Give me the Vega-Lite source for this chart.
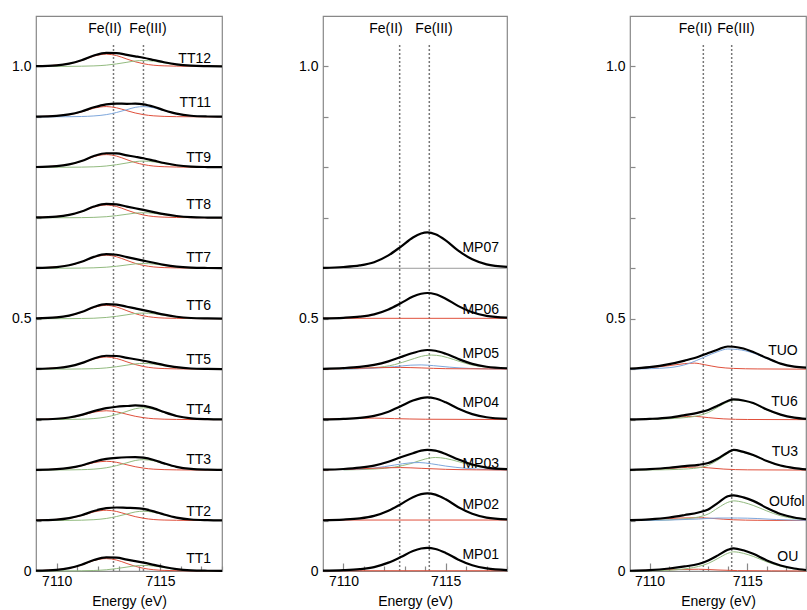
{
"$schema":"https://vega.github.io/schema/vega-lite/v6.json",
"padding":{"left":5,"top":15,"right":0,"bottom":0},
"background":"white",
"config":{"view":{"stroke":"#888","strokeWidth":1.2},
"axis":{"domain":false,"grid":false,"tickColor":"#888","tickWidth":1.2,"labelFont":"Liberation Sans","labelFontSize":14,"labelColor":"#000","titleFont":"Liberation Sans","titleFontSize":14,"titleFontWeight":"normal","titleColor":"#000","labelOverlap":false,"labelFlush":false},
"text":{"font":"Liberation Sans","fontSize":14,"color":"#000"}},
"spacing":63,
"datasets":{
"v":[{"x":7112.75,"y":0,"y2v":1.045},{"x":7114.2,"y":0,"y2v":1.045}],
"fe":[{"p":1,"t":"Fe(II)","x":7112.34,"y":1.075},{"p":1,"t":"Fe(III)","x":7114.42,"y":1.075},{"p":2,"t":"Fe(II)","x":7112.08,"y":1.075},{"p":2,"t":"Fe(III)","x":7114.43,"y":1.075},{"p":3,"t":"Fe(II)","x":7112.35,"y":1.075},{"p":3,"t":"Fe(III)","x":7114.42,"y":1.075}],
"n":[{"p":1,"s":"TT12","x":7117.47,"y":1.0139},{"p":1,"s":"TT11","x":7117.47,"y":0.9276},{"p":1,"s":"TT9","x":7117.47,"y":0.8194},{"p":1,"s":"TT8","x":7117.47,"y":0.7262},{"p":1,"s":"TT7","x":7117.47,"y":0.6198},{"p":1,"s":"TT6","x":7117.47,"y":0.5248},{"p":1,"s":"TT5","x":7117.47,"y":0.4187},{"p":1,"s":"TT4","x":7117.47,"y":0.3194},{"p":1,"s":"TT3","x":7117.47,"y":0.2202},{"p":1,"s":"TT2","x":7117.47,"y":0.1171},{"p":1,"s":"TT1","x":7117.47,"y":0.0238},
{"p":2,"s":"MP07","x":7117.61,"y":0.6402},{"p":2,"s":"MP06","x":7117.61,"y":0.5172},{"p":2,"s":"MP05","x":7117.61,"y":0.43},{"p":2,"s":"MP04","x":7117.61,"y":0.332},{"p":2,"s":"MP03","x":7117.61,"y":0.213},{"p":2,"s":"MP02","x":7117.61,"y":0.131},{"p":2,"s":"MP01","x":7117.61,"y":0.0317},
{"p":3,"s":"TUO","x":7116.82,"y":0.4365},{"p":3,"s":"TU6","x":7116.9,"y":0.334},{"p":3,"s":"TU3","x":7116.92,"y":0.236},{"p":3,"s":"OUfol","x":7117.02,"y":0.137},{"p":3,"s":"OU","x":7117.07,"y":0.028}],
"d":[
{"s":"TT1","c":"t","x":7109,"y":0.0007},{"s":"TT1","c":"t","x":7110,"y":0.0023},{"s":"TT1","c":"t","x":7110.6,"y":0.0056},{"s":"TT1","c":"t","x":7111.2,"y":0.0123},{"s":"TT1","c":"t","x":7111.8,"y":0.0217},{"s":"TT1","c":"t","x":7112.4,"y":0.027},{"s":"TT1","c":"t","x":7112.9,"y":0.0264},{"s":"TT1","c":"t","x":7113.4,"y":0.0225},{"s":"TT1","c":"t","x":7113.8,"y":0.0196},{"s":"TT1","c":"t","x":7114.2,"y":0.0165},{"s":"TT1","c":"t","x":7114.7,"y":0.0122},{"s":"TT1","c":"t","x":7115.2,"y":0.0079},{"s":"TT1","c":"t","x":7115.8,"y":0.0038},{"s":"TT1","c":"t","x":7116.5,"y":0.0014},{"s":"TT1","c":"t","x":7117.3,"y":0.0005},{"s":"TT1","c":"t","x":7118,"y":0.0002},
{"s":"TT1","c":"r","x":7109,"y":0.0006},{"s":"TT1","c":"r","x":7110.6,"y":0.0054},{"s":"TT1","c":"r","x":7111.2,"y":0.0118},{"s":"TT1","c":"r","x":7111.8,"y":0.0207},{"s":"TT1","c":"r","x":7112.4,"y":0.0246},{"s":"TT1","c":"r","x":7112.9,"y":0.0217},{"s":"TT1","c":"r","x":7113.4,"y":0.0148},{"s":"TT1","c":"r","x":7113.8,"y":0.0094},{"s":"TT1","c":"r","x":7114.2,"y":0.0054},{"s":"TT1","c":"r","x":7114.7,"y":0.0025},{"s":"TT1","c":"r","x":7115.2,"y":0.0012},{"s":"TT1","c":"r","x":7115.8,"y":0.0006},{"s":"TT1","c":"r","x":7116.5,"y":0.0003},{"s":"TT1","c":"r","x":7118,"y":0.0001},
{"s":"TT1","c":"g","x":7109,"y":0},{"s":"TT1","c":"g","x":7110.6,"y":0.0002},{"s":"TT1","c":"g","x":7111.2,"y":0.0004},{"s":"TT1","c":"g","x":7111.8,"y":0.001},{"s":"TT1","c":"g","x":7112.4,"y":0.0024},{"s":"TT1","c":"g","x":7112.9,"y":0.0048},{"s":"TT1","c":"g","x":7113.4,"y":0.0078},{"s":"TT1","c":"g","x":7113.8,"y":0.0102},{"s":"TT1","c":"g","x":7114.2,"y":0.0111},{"s":"TT1","c":"g","x":7114.7,"y":0.0098},{"s":"TT1","c":"g","x":7115.2,"y":0.0067},{"s":"TT1","c":"g","x":7115.8,"y":0.0032},{"s":"TT1","c":"g","x":7116.5,"y":0.0011},{"s":"TT1","c":"g","x":7118,"y":0.0002},
{"s":"TT2","c":"t","x":7109,"y":0.1006},{"s":"TT2","c":"t","x":7110,"y":0.102},{"s":"TT2","c":"t","x":7110.6,"y":0.1049},{"s":"TT2","c":"t","x":7111.2,"y":0.1105},{"s":"TT2","c":"t","x":7111.8,"y":0.1188},{"s":"TT2","c":"t","x":7112.4,"y":0.1245},{"s":"TT2","c":"t","x":7112.9,"y":0.1259},{"s":"TT2","c":"t","x":7113.4,"y":0.1252},{"s":"TT2","c":"t","x":7113.8,"y":0.1248},{"s":"TT2","c":"t","x":7114.2,"y":0.123},{"s":"TT2","c":"t","x":7114.7,"y":0.1183},{"s":"TT2","c":"t","x":7115.2,"y":0.1121},{"s":"TT2","c":"t","x":7115.8,"y":0.1059},{"s":"TT2","c":"t","x":7116.5,"y":0.1021},{"s":"TT2","c":"t","x":7117.3,"y":0.1008},{"s":"TT2","c":"t","x":7118,"y":0.1003},
{"s":"TT2","c":"r","x":7109,"y":0.1005},{"s":"TT2","c":"r","x":7110.6,"y":0.1045},{"s":"TT2","c":"r","x":7111.2,"y":0.1098},{"s":"TT2","c":"r","x":7111.8,"y":0.1171},{"s":"TT2","c":"r","x":7112.4,"y":0.1204},{"s":"TT2","c":"r","x":7112.9,"y":0.118},{"s":"TT2","c":"r","x":7113.4,"y":0.1122},{"s":"TT2","c":"r","x":7113.8,"y":0.1078},{"s":"TT2","c":"r","x":7114.2,"y":0.1045},{"s":"TT2","c":"r","x":7114.7,"y":0.102},{"s":"TT2","c":"r","x":7115.2,"y":0.101},{"s":"TT2","c":"r","x":7115.8,"y":0.1005},{"s":"TT2","c":"r","x":7116.5,"y":0.1002},{"s":"TT2","c":"r","x":7118,"y":0.1001},
{"s":"TT2","c":"g","x":7109,"y":0.1001},{"s":"TT2","c":"g","x":7110.6,"y":0.1004},{"s":"TT2","c":"g","x":7111.2,"y":0.1007},{"s":"TT2","c":"g","x":7111.8,"y":0.1017},{"s":"TT2","c":"g","x":7112.4,"y":0.1041},{"s":"TT2","c":"g","x":7112.9,"y":0.108},{"s":"TT2","c":"g","x":7113.4,"y":0.113},{"s":"TT2","c":"g","x":7113.8,"y":0.117},{"s":"TT2","c":"g","x":7114.2,"y":0.1185},{"s":"TT2","c":"g","x":7114.7,"y":0.1163},{"s":"TT2","c":"g","x":7115.2,"y":0.1111},{"s":"TT2","c":"g","x":7115.8,"y":0.1054},{"s":"TT2","c":"g","x":7116.5,"y":0.1019},{"s":"TT2","c":"g","x":7118,"y":0.1003},
{"s":"TT3","c":"t","x":7109,"y":0.2005},{"s":"TT3","c":"t","x":7110,"y":0.2018},{"s":"TT3","c":"t","x":7110.6,"y":0.2043},{"s":"TT3","c":"t","x":7111.2,"y":0.2092},{"s":"TT3","c":"t","x":7111.8,"y":0.2166},{"s":"TT3","c":"t","x":7112.4,"y":0.2221},{"s":"TT3","c":"t","x":7112.9,"y":0.2243},{"s":"TT3","c":"t","x":7113.4,"y":0.2254},{"s":"TT3","c":"t","x":7113.8,"y":0.2257},{"s":"TT3","c":"t","x":7114.2,"y":0.2246},{"s":"TT3","c":"t","x":7114.7,"y":0.22},{"s":"TT3","c":"t","x":7115.2,"y":0.2133},{"s":"TT3","c":"t","x":7115.8,"y":0.2064},{"s":"TT3","c":"t","x":7116.5,"y":0.2023},{"s":"TT3","c":"t","x":7117.3,"y":0.2008},{"s":"TT3","c":"t","x":7118,"y":0.2004},
{"s":"TT3","c":"r","x":7109,"y":0.2004},{"s":"TT3","c":"r","x":7110.6,"y":0.2039},{"s":"TT3","c":"r","x":7111.2,"y":0.2084},{"s":"TT3","c":"r","x":7111.8,"y":0.2147},{"s":"TT3","c":"r","x":7112.4,"y":0.2175},{"s":"TT3","c":"r","x":7112.9,"y":0.2154},{"s":"TT3","c":"r","x":7113.4,"y":0.2105},{"s":"TT3","c":"r","x":7113.8,"y":0.2067},{"s":"TT3","c":"r","x":7114.2,"y":0.2039},{"s":"TT3","c":"r","x":7114.7,"y":0.2018},{"s":"TT3","c":"r","x":7115.2,"y":0.2009},{"s":"TT3","c":"r","x":7115.8,"y":0.2004},{"s":"TT3","c":"r","x":7116.5,"y":0.2002},{"s":"TT3","c":"r","x":7118,"y":0.2001},
{"s":"TT3","c":"g","x":7109,"y":0.2001},{"s":"TT3","c":"g","x":7110.6,"y":0.2004},{"s":"TT3","c":"g","x":7111.2,"y":0.2008},{"s":"TT3","c":"g","x":7111.8,"y":0.2019},{"s":"TT3","c":"g","x":7112.4,"y":0.2046},{"s":"TT3","c":"g","x":7112.9,"y":0.2089},{"s":"TT3","c":"g","x":7113.4,"y":0.2145},{"s":"TT3","c":"g","x":7113.8,"y":0.219},{"s":"TT3","c":"g","x":7114.2,"y":0.2207},{"s":"TT3","c":"g","x":7114.7,"y":0.2182},{"s":"TT3","c":"g","x":7115.2,"y":0.2124},{"s":"TT3","c":"g","x":7115.8,"y":0.206},{"s":"TT3","c":"g","x":7116.5,"y":0.2021},{"s":"TT3","c":"g","x":7118,"y":0.2003},
{"s":"TT4","c":"t","x":7109,"y":0.3005},{"s":"TT4","c":"t","x":7110,"y":0.3018},{"s":"TT4","c":"t","x":7110.6,"y":0.3043},{"s":"TT4","c":"t","x":7111.2,"y":0.3094},{"s":"TT4","c":"t","x":7111.8,"y":0.3169},{"s":"TT4","c":"t","x":7112.4,"y":0.3228},{"s":"TT4","c":"t","x":7112.9,"y":0.3256},{"s":"TT4","c":"t","x":7113.4,"y":0.327},{"s":"TT4","c":"t","x":7113.8,"y":0.3281},{"s":"TT4","c":"t","x":7114.2,"y":0.3274},{"s":"TT4","c":"t","x":7114.7,"y":0.3224},{"s":"TT4","c":"t","x":7115.2,"y":0.315},{"s":"TT4","c":"t","x":7115.8,"y":0.3073},{"s":"TT4","c":"t","x":7116.5,"y":0.3026},{"s":"TT4","c":"t","x":7117.3,"y":0.3009},{"s":"TT4","c":"t","x":7118,"y":0.3004},
{"s":"TT4","c":"r","x":7109,"y":0.3004},{"s":"TT4","c":"r","x":7110.6,"y":0.3039},{"s":"TT4","c":"r","x":7111.2,"y":0.3085},{"s":"TT4","c":"r","x":7111.8,"y":0.3148},{"s":"TT4","c":"r","x":7112.4,"y":0.3176},{"s":"TT4","c":"r","x":7112.9,"y":0.3155},{"s":"TT4","c":"r","x":7113.4,"y":0.3106},{"s":"TT4","c":"r","x":7113.8,"y":0.3067},{"s":"TT4","c":"r","x":7114.2,"y":0.3039},{"s":"TT4","c":"r","x":7114.7,"y":0.3018},{"s":"TT4","c":"r","x":7115.2,"y":0.3009},{"s":"TT4","c":"r","x":7115.8,"y":0.3004},{"s":"TT4","c":"r","x":7116.5,"y":0.3002},{"s":"TT4","c":"r","x":7118,"y":0.3001},
{"s":"TT4","c":"g","x":7109,"y":0.3001},{"s":"TT4","c":"g","x":7110.6,"y":0.3005},{"s":"TT4","c":"g","x":7111.2,"y":0.3009},{"s":"TT4","c":"g","x":7111.8,"y":0.3021},{"s":"TT4","c":"g","x":7112.4,"y":0.3052},{"s":"TT4","c":"g","x":7112.9,"y":0.3101},{"s":"TT4","c":"g","x":7113.4,"y":0.3165},{"s":"TT4","c":"g","x":7113.8,"y":0.3216},{"s":"TT4","c":"g","x":7114.2,"y":0.3235},{"s":"TT4","c":"g","x":7114.7,"y":0.3207},{"s":"TT4","c":"g","x":7115.2,"y":0.3141},{"s":"TT4","c":"g","x":7115.8,"y":0.3068},{"s":"TT4","c":"g","x":7116.5,"y":0.3024},{"s":"TT4","c":"g","x":7118,"y":0.3004},
{"s":"TT5","c":"t","x":7109,"y":0.4007},{"s":"TT5","c":"t","x":7110,"y":0.4023},{"s":"TT5","c":"t","x":7110.6,"y":0.4055},{"s":"TT5","c":"t","x":7111.2,"y":0.412},{"s":"TT5","c":"t","x":7111.8,"y":0.4213},{"s":"TT5","c":"t","x":7112.4,"y":0.4266},{"s":"TT5","c":"t","x":7112.9,"y":0.4261},{"s":"TT5","c":"t","x":7113.4,"y":0.4224},{"s":"TT5","c":"t","x":7113.8,"y":0.4197},{"s":"TT5","c":"t","x":7114.2,"y":0.4167},{"s":"TT5","c":"t","x":7114.7,"y":0.4124},{"s":"TT5","c":"t","x":7115.2,"y":0.4081},{"s":"TT5","c":"t","x":7115.8,"y":0.4039},{"s":"TT5","c":"t","x":7116.5,"y":0.4014},{"s":"TT5","c":"t","x":7117.3,"y":0.4005},{"s":"TT5","c":"t","x":7118,"y":0.4002},
{"s":"TT5","c":"r","x":7109,"y":0.4006},{"s":"TT5","c":"r","x":7110.6,"y":0.4053},{"s":"TT5","c":"r","x":7111.2,"y":0.4116},{"s":"TT5","c":"r","x":7111.8,"y":0.4202},{"s":"TT5","c":"r","x":7112.4,"y":0.4241},{"s":"TT5","c":"r","x":7112.9,"y":0.4212},{"s":"TT5","c":"r","x":7113.4,"y":0.4145},{"s":"TT5","c":"r","x":7113.8,"y":0.4092},{"s":"TT5","c":"r","x":7114.2,"y":0.4053},{"s":"TT5","c":"r","x":7114.7,"y":0.4024},{"s":"TT5","c":"r","x":7115.2,"y":0.4012},{"s":"TT5","c":"r","x":7115.8,"y":0.4006},{"s":"TT5","c":"r","x":7116.5,"y":0.4003},{"s":"TT5","c":"r","x":7118,"y":0.4001},
{"s":"TT5","c":"g","x":7109,"y":0.4},{"s":"TT5","c":"g","x":7110.6,"y":0.4002},{"s":"TT5","c":"g","x":7111.2,"y":0.4005},{"s":"TT5","c":"g","x":7111.8,"y":0.401},{"s":"TT5","c":"g","x":7112.4,"y":0.4025},{"s":"TT5","c":"g","x":7112.9,"y":0.4049},{"s":"TT5","c":"g","x":7113.4,"y":0.408},{"s":"TT5","c":"g","x":7113.8,"y":0.4105},{"s":"TT5","c":"g","x":7114.2,"y":0.4114},{"s":"TT5","c":"g","x":7114.7,"y":0.41},{"s":"TT5","c":"g","x":7115.2,"y":0.4068},{"s":"TT5","c":"g","x":7115.8,"y":0.4033},{"s":"TT5","c":"g","x":7116.5,"y":0.4011},{"s":"TT5","c":"g","x":7118,"y":0.4002},
{"s":"TT6","c":"t","x":7109,"y":0.5007},{"s":"TT6","c":"t","x":7110,"y":0.5025},{"s":"TT6","c":"t","x":7110.6,"y":0.5061},{"s":"TT6","c":"t","x":7111.2,"y":0.5132},{"s":"TT6","c":"t","x":7111.8,"y":0.5233},{"s":"TT6","c":"t","x":7112.4,"y":0.529},{"s":"TT6","c":"t","x":7112.9,"y":0.5281},{"s":"TT6","c":"t","x":7113.4,"y":0.5237},{"s":"TT6","c":"t","x":7113.8,"y":0.5204},{"s":"TT6","c":"t","x":7114.2,"y":0.517},{"s":"TT6","c":"t","x":7114.7,"y":0.5125},{"s":"TT6","c":"t","x":7115.2,"y":0.5081},{"s":"TT6","c":"t","x":7115.8,"y":0.5039},{"s":"TT6","c":"t","x":7116.5,"y":0.5014},{"s":"TT6","c":"t","x":7117.3,"y":0.5006},{"s":"TT6","c":"t","x":7118,"y":0.5003},
{"s":"TT6","c":"r","x":7109,"y":0.5007},{"s":"TT6","c":"r","x":7110.6,"y":0.5058},{"s":"TT6","c":"r","x":7111.2,"y":0.5127},{"s":"TT6","c":"r","x":7111.8,"y":0.5223},{"s":"TT6","c":"r","x":7112.4,"y":0.5265},{"s":"TT6","c":"r","x":7112.9,"y":0.5233},{"s":"TT6","c":"r","x":7113.4,"y":0.5159},{"s":"TT6","c":"r","x":7113.8,"y":0.5101},{"s":"TT6","c":"r","x":7114.2,"y":0.5058},{"s":"TT6","c":"r","x":7114.7,"y":0.5027},{"s":"TT6","c":"r","x":7115.2,"y":0.5013},{"s":"TT6","c":"r","x":7115.8,"y":0.5007},{"s":"TT6","c":"r","x":7116.5,"y":0.5003},{"s":"TT6","c":"r","x":7118,"y":0.5001},
{"s":"TT6","c":"g","x":7109,"y":0.5},{"s":"TT6","c":"g","x":7110.6,"y":0.5002},{"s":"TT6","c":"g","x":7111.2,"y":0.5005},{"s":"TT6","c":"g","x":7111.8,"y":0.501},{"s":"TT6","c":"g","x":7112.4,"y":0.5025},{"s":"TT6","c":"g","x":7112.9,"y":0.5048},{"s":"TT6","c":"g","x":7113.4,"y":0.5078},{"s":"TT6","c":"g","x":7113.8,"y":0.5103},{"s":"TT6","c":"g","x":7114.2,"y":0.5112},{"s":"TT6","c":"g","x":7114.7,"y":0.5099},{"s":"TT6","c":"g","x":7115.2,"y":0.5067},{"s":"TT6","c":"g","x":7115.8,"y":0.5033},{"s":"TT6","c":"g","x":7116.5,"y":0.5011},{"s":"TT6","c":"g","x":7118,"y":0.5002},
{"s":"TT7","c":"t","x":7109,"y":0.6007},{"s":"TT7","c":"t","x":7110,"y":0.6024},{"s":"TT7","c":"t","x":7110.6,"y":0.6059},{"s":"TT7","c":"t","x":7111.2,"y":0.6128},{"s":"TT7","c":"t","x":7111.8,"y":0.6226},{"s":"TT7","c":"t","x":7112.4,"y":0.628},{"s":"TT7","c":"t","x":7112.9,"y":0.6268},{"s":"TT7","c":"t","x":7113.4,"y":0.6221},{"s":"TT7","c":"t","x":7113.8,"y":0.6185},{"s":"TT7","c":"t","x":7114.2,"y":0.6151},{"s":"TT7","c":"t","x":7114.7,"y":0.6109},{"s":"TT7","c":"t","x":7115.2,"y":0.6069},{"s":"TT7","c":"t","x":7115.8,"y":0.6034},{"s":"TT7","c":"t","x":7116.5,"y":0.6013},{"s":"TT7","c":"t","x":7117.3,"y":0.6005},{"s":"TT7","c":"t","x":7118,"y":0.6002},
{"s":"TT7","c":"r","x":7109,"y":0.6007},{"s":"TT7","c":"r","x":7110.6,"y":0.6057},{"s":"TT7","c":"r","x":7111.2,"y":0.6124},{"s":"TT7","c":"r","x":7111.8,"y":0.6218},{"s":"TT7","c":"r","x":7112.4,"y":0.6259},{"s":"TT7","c":"r","x":7112.9,"y":0.6228},{"s":"TT7","c":"r","x":7113.4,"y":0.6155},{"s":"TT7","c":"r","x":7113.8,"y":0.6098},{"s":"TT7","c":"r","x":7114.2,"y":0.6057},{"s":"TT7","c":"r","x":7114.7,"y":0.6026},{"s":"TT7","c":"r","x":7115.2,"y":0.6013},{"s":"TT7","c":"r","x":7115.8,"y":0.6007},{"s":"TT7","c":"r","x":7116.5,"y":0.6003},{"s":"TT7","c":"r","x":7118,"y":0.6001},
{"s":"TT7","c":"g","x":7109,"y":0.6},{"s":"TT7","c":"g","x":7110.6,"y":0.6002},{"s":"TT7","c":"g","x":7111.2,"y":0.6004},{"s":"TT7","c":"g","x":7111.8,"y":0.6009},{"s":"TT7","c":"g","x":7112.4,"y":0.6021},{"s":"TT7","c":"g","x":7112.9,"y":0.604},{"s":"TT7","c":"g","x":7113.4,"y":0.6066},{"s":"TT7","c":"g","x":7113.8,"y":0.6087},{"s":"TT7","c":"g","x":7114.2,"y":0.6094},{"s":"TT7","c":"g","x":7114.7,"y":0.6083},{"s":"TT7","c":"g","x":7115.2,"y":0.6056},{"s":"TT7","c":"g","x":7115.8,"y":0.6027},{"s":"TT7","c":"g","x":7116.5,"y":0.6009},{"s":"TT7","c":"g","x":7118,"y":0.6001},
{"s":"TT8","c":"t","x":7109,"y":0.7007},{"s":"TT8","c":"t","x":7110,"y":0.7024},{"s":"TT8","c":"t","x":7110.6,"y":0.7058},{"s":"TT8","c":"t","x":7111.2,"y":0.7126},{"s":"TT8","c":"t","x":7111.8,"y":0.7223},{"s":"TT8","c":"t","x":7112.4,"y":0.7276},{"s":"TT8","c":"t","x":7112.9,"y":0.7267},{"s":"TT8","c":"t","x":7113.4,"y":0.7223},{"s":"TT8","c":"t","x":7113.8,"y":0.7189},{"s":"TT8","c":"t","x":7114.2,"y":0.7157},{"s":"TT8","c":"t","x":7114.7,"y":0.7114},{"s":"TT8","c":"t","x":7115.2,"y":0.7073},{"s":"TT8","c":"t","x":7115.8,"y":0.7036},{"s":"TT8","c":"t","x":7116.5,"y":0.7013},{"s":"TT8","c":"t","x":7117.3,"y":0.7005},{"s":"TT8","c":"t","x":7118,"y":0.7002},
{"s":"TT8","c":"r","x":7109,"y":0.7006},{"s":"TT8","c":"r","x":7110.6,"y":0.7056},{"s":"TT8","c":"r","x":7111.2,"y":0.7122},{"s":"TT8","c":"r","x":7111.8,"y":0.7213},{"s":"TT8","c":"r","x":7112.4,"y":0.7254},{"s":"TT8","c":"r","x":7112.9,"y":0.7224},{"s":"TT8","c":"r","x":7113.4,"y":0.7152},{"s":"TT8","c":"r","x":7113.8,"y":0.7097},{"s":"TT8","c":"r","x":7114.2,"y":0.7056},{"s":"TT8","c":"r","x":7114.7,"y":0.7025},{"s":"TT8","c":"r","x":7115.2,"y":0.7013},{"s":"TT8","c":"r","x":7115.8,"y":0.7006},{"s":"TT8","c":"r","x":7116.5,"y":0.7003},{"s":"TT8","c":"r","x":7118,"y":0.7001},
{"s":"TT8","c":"g","x":7109,"y":0.7},{"s":"TT8","c":"g","x":7110.6,"y":0.7002},{"s":"TT8","c":"g","x":7111.2,"y":0.7004},{"s":"TT8","c":"g","x":7111.8,"y":0.7009},{"s":"TT8","c":"g","x":7112.4,"y":0.7022},{"s":"TT8","c":"g","x":7112.9,"y":0.7043},{"s":"TT8","c":"g","x":7113.4,"y":0.7071},{"s":"TT8","c":"g","x":7113.8,"y":0.7093},{"s":"TT8","c":"g","x":7114.2,"y":0.7101},{"s":"TT8","c":"g","x":7114.7,"y":0.7089},{"s":"TT8","c":"g","x":7115.2,"y":0.7061},{"s":"TT8","c":"g","x":7115.8,"y":0.7029},{"s":"TT8","c":"g","x":7116.5,"y":0.701},{"s":"TT8","c":"g","x":7118,"y":0.7002},
{"s":"TT9","c":"t","x":7109,"y":0.8007},{"s":"TT9","c":"t","x":7110,"y":0.8024},{"s":"TT9","c":"t","x":7110.6,"y":0.8058},{"s":"TT9","c":"t","x":7111.2,"y":0.8126},{"s":"TT9","c":"t","x":7111.8,"y":0.8224},{"s":"TT9","c":"t","x":7112.4,"y":0.828},{"s":"TT9","c":"t","x":7112.9,"y":0.8276},{"s":"TT9","c":"t","x":7113.4,"y":0.8239},{"s":"TT9","c":"t","x":7113.8,"y":0.821},{"s":"TT9","c":"t","x":7114.2,"y":0.818},{"s":"TT9","c":"t","x":7114.7,"y":0.8134},{"s":"TT9","c":"t","x":7115.2,"y":0.8087},{"s":"TT9","c":"t","x":7115.8,"y":0.8042},{"s":"TT9","c":"t","x":7116.5,"y":0.8015},{"s":"TT9","c":"t","x":7117.3,"y":0.8006},{"s":"TT9","c":"t","x":7118,"y":0.8003},
{"s":"TT9","c":"r","x":7109,"y":0.8006},{"s":"TT9","c":"r","x":7110.6,"y":0.8056},{"s":"TT9","c":"r","x":7111.2,"y":0.8121},{"s":"TT9","c":"r","x":7111.8,"y":0.8213},{"s":"TT9","c":"r","x":7112.4,"y":0.8253},{"s":"TT9","c":"r","x":7112.9,"y":0.8223},{"s":"TT9","c":"r","x":7113.4,"y":0.8152},{"s":"TT9","c":"r","x":7113.8,"y":0.8096},{"s":"TT9","c":"r","x":7114.2,"y":0.8056},{"s":"TT9","c":"r","x":7114.7,"y":0.8025},{"s":"TT9","c":"r","x":7115.2,"y":0.8013},{"s":"TT9","c":"r","x":7115.8,"y":0.8006},{"s":"TT9","c":"r","x":7116.5,"y":0.8003},{"s":"TT9","c":"r","x":7118,"y":0.8001},
{"s":"TT9","c":"g","x":7109,"y":0.8001},{"s":"TT9","c":"g","x":7110.6,"y":0.8003},{"s":"TT9","c":"g","x":7111.2,"y":0.8005},{"s":"TT9","c":"g","x":7111.8,"y":0.8011},{"s":"TT9","c":"g","x":7112.4,"y":0.8027},{"s":"TT9","c":"g","x":7112.9,"y":0.8053},{"s":"TT9","c":"g","x":7113.4,"y":0.8087},{"s":"TT9","c":"g","x":7113.8,"y":0.8114},{"s":"TT9","c":"g","x":7114.2,"y":0.8124},{"s":"TT9","c":"g","x":7114.7,"y":0.8109},{"s":"TT9","c":"g","x":7115.2,"y":0.8074},{"s":"TT9","c":"g","x":7115.8,"y":0.8036},{"s":"TT9","c":"g","x":7116.5,"y":0.8012},{"s":"TT9","c":"g","x":7118,"y":0.8002},
{"s":"TT11","c":"t","x":7109,"y":0.9006},{"s":"TT11","c":"t","x":7110,"y":0.9021},{"s":"TT11","c":"t","x":7110.6,"y":0.9049},{"s":"TT11","c":"t","x":7111.2,"y":0.9107},{"s":"TT11","c":"t","x":7111.8,"y":0.9191},{"s":"TT11","c":"t","x":7112.4,"y":0.925},{"s":"TT11","c":"t","x":7112.9,"y":0.9265},{"s":"TT11","c":"t","x":7113.4,"y":0.926},{"s":"TT11","c":"t","x":7113.8,"y":0.9262},{"s":"TT11","c":"t","x":7114.2,"y":0.925},{"s":"TT11","c":"t","x":7114.7,"y":0.9201},{"s":"TT11","c":"t","x":7115.2,"y":0.9133},{"s":"TT11","c":"t","x":7115.8,"y":0.9065},{"s":"TT11","c":"t","x":7116.5,"y":0.9023},{"s":"TT11","c":"t","x":7117.3,"y":0.9008},{"s":"TT11","c":"t","x":7118,"y":0.9004},
{"s":"TT11","c":"r","x":7109,"y":0.9005},{"s":"TT11","c":"r","x":7110.6,"y":0.9045},{"s":"TT11","c":"r","x":7111.2,"y":0.9098},{"s":"TT11","c":"r","x":7111.8,"y":0.9172},{"s":"TT11","c":"r","x":7112.4,"y":0.9205},{"s":"TT11","c":"r","x":7112.9,"y":0.918},{"s":"TT11","c":"r","x":7113.4,"y":0.9123},{"s":"TT11","c":"r","x":7113.8,"y":0.9078},{"s":"TT11","c":"r","x":7114.2,"y":0.9045},{"s":"TT11","c":"r","x":7114.7,"y":0.9021},{"s":"TT11","c":"r","x":7115.2,"y":0.901},{"s":"TT11","c":"r","x":7115.8,"y":0.9005},{"s":"TT11","c":"r","x":7116.5,"y":0.9003},{"s":"TT11","c":"r","x":7118,"y":0.9001},
{"s":"TT11","c":"b","x":7109,"y":0.9001},{"s":"TT11","c":"b","x":7110.6,"y":0.9004},{"s":"TT11","c":"b","x":7111.2,"y":0.9008},{"s":"TT11","c":"b","x":7111.8,"y":0.9019},{"s":"TT11","c":"b","x":7112.4,"y":0.9045},{"s":"TT11","c":"b","x":7112.9,"y":0.9088},{"s":"TT11","c":"b","x":7113.4,"y":0.9144},{"s":"TT11","c":"b","x":7113.8,"y":0.9189},{"s":"TT11","c":"b","x":7114.2,"y":0.9205},{"s":"TT11","c":"b","x":7114.7,"y":0.918},{"s":"TT11","c":"b","x":7115.2,"y":0.9123},{"s":"TT11","c":"b","x":7115.8,"y":0.906},{"s":"TT11","c":"b","x":7116.5,"y":0.9021},{"s":"TT11","c":"b","x":7118,"y":0.9003},
{"s":"TT12","c":"t","x":7109,"y":1.0007},{"s":"TT12","c":"t","x":7110,"y":1.0023},{"s":"TT12","c":"t","x":7110.6,"y":1.0056},{"s":"TT12","c":"t","x":7111.2,"y":1.0122},{"s":"TT12","c":"t","x":7111.8,"y":1.0216},{"s":"TT12","c":"t","x":7112.4,"y":1.027},{"s":"TT12","c":"t","x":7112.9,"y":1.0265},{"s":"TT12","c":"t","x":7113.4,"y":1.0229},{"s":"TT12","c":"t","x":7113.8,"y":1.0201},{"s":"TT12","c":"t","x":7114.2,"y":1.0172},{"s":"TT12","c":"t","x":7114.7,"y":1.0128},{"s":"TT12","c":"t","x":7115.2,"y":1.0083},{"s":"TT12","c":"t","x":7115.8,"y":1.004},{"s":"TT12","c":"t","x":7116.5,"y":1.0015},{"s":"TT12","c":"t","x":7117.3,"y":1.0006},{"s":"TT12","c":"t","x":7118,"y":1.0002},
{"s":"TT12","c":"r","x":7109,"y":1.0006},{"s":"TT12","c":"r","x":7110.6,"y":1.0054},{"s":"TT12","c":"r","x":7111.2,"y":1.0117},{"s":"TT12","c":"r","x":7111.8,"y":1.0205},{"s":"TT12","c":"r","x":7112.4,"y":1.0244},{"s":"TT12","c":"r","x":7112.9,"y":1.0215},{"s":"TT12","c":"r","x":7113.4,"y":1.0146},{"s":"TT12","c":"r","x":7113.8,"y":1.0093},{"s":"TT12","c":"r","x":7114.2,"y":1.0054},{"s":"TT12","c":"r","x":7114.7,"y":1.0024},{"s":"TT12","c":"r","x":7115.2,"y":1.0012},{"s":"TT12","c":"r","x":7115.8,"y":1.0006},{"s":"TT12","c":"r","x":7116.5,"y":1.0003},{"s":"TT12","c":"r","x":7118,"y":1.0001},
{"s":"TT12","c":"g","x":7109,"y":1.0001},{"s":"TT12","c":"g","x":7110.6,"y":1.0002},{"s":"TT12","c":"g","x":7111.2,"y":1.0005},{"s":"TT12","c":"g","x":7111.8,"y":1.0011},{"s":"TT12","c":"g","x":7112.4,"y":1.0026},{"s":"TT12","c":"g","x":7112.9,"y":1.0051},{"s":"TT12","c":"g","x":7113.4,"y":1.0083},{"s":"TT12","c":"g","x":7113.8,"y":1.0109},{"s":"TT12","c":"g","x":7114.2,"y":1.0118},{"s":"TT12","c":"g","x":7114.7,"y":1.0104},{"s":"TT12","c":"g","x":7115.2,"y":1.0071},{"s":"TT12","c":"g","x":7115.8,"y":1.0034},{"s":"TT12","c":"g","x":7116.5,"y":1.0012},{"s":"TT12","c":"g","x":7118,"y":1.0002},
{"s":"MP07","c":"t","x":7109,"y":0.6009},{"s":"MP07","c":"t","x":7110,"y":0.6025},{"s":"MP07","c":"t","x":7110.8,"y":0.6057},{"s":"MP07","c":"t","x":7111.5,"y":0.6121},{"s":"MP07","c":"t","x":7112.2,"y":0.6256},{"s":"MP07","c":"t","x":7112.8,"y":0.6426},{"s":"MP07","c":"t","x":7113.4,"y":0.6611},{"s":"MP07","c":"t","x":7113.8,"y":0.6689},{"s":"MP07","c":"t","x":7114.1,"y":0.671},{"s":"MP07","c":"t","x":7114.5,"y":0.6675},{"s":"MP07","c":"t","x":7115,"y":0.6554},{"s":"MP07","c":"t","x":7115.6,"y":0.6355},{"s":"MP07","c":"t","x":7116.3,"y":0.6178},{"s":"MP07","c":"t","x":7117,"y":0.6078},{"s":"MP07","c":"t","x":7118,"y":0.6028},
{"s":"MP07","c":"k","x":7109,"y":0.6},{"s":"MP07","c":"k","x":7118,"y":0.6},
{"s":"MP06","c":"t","x":7109,"y":0.5006},{"s":"MP06","c":"t","x":7110,"y":0.5018},{"s":"MP06","c":"t","x":7110.8,"y":0.5041},{"s":"MP06","c":"t","x":7111.5,"y":0.5087},{"s":"MP06","c":"t","x":7112.2,"y":0.5184},{"s":"MP06","c":"t","x":7112.8,"y":0.5306},{"s":"MP06","c":"t","x":7113.4,"y":0.5439},{"s":"MP06","c":"t","x":7113.8,"y":0.5495},{"s":"MP06","c":"t","x":7114.1,"y":0.551},{"s":"MP06","c":"t","x":7114.5,"y":0.5485},{"s":"MP06","c":"t","x":7115,"y":0.5398},{"s":"MP06","c":"t","x":7115.6,"y":0.5255},{"s":"MP06","c":"t","x":7116.3,"y":0.5128},{"s":"MP06","c":"t","x":7117,"y":0.5056},{"s":"MP06","c":"t","x":7118,"y":0.502},
{"s":"MP06","c":"r","x":7109,"y":0.5008},{"s":"MP06","c":"r","x":7118,"y":0.5008},
{"s":"MP05","c":"t","x":7109,"y":0.4008},{"s":"MP05","c":"t","x":7110,"y":0.4022},{"s":"MP05","c":"t","x":7110.8,"y":0.4045},{"s":"MP05","c":"t","x":7111.5,"y":0.4085},{"s":"MP05","c":"t","x":7112.2,"y":0.4155},{"s":"MP05","c":"t","x":7112.8,"y":0.424},{"s":"MP05","c":"t","x":7113.4,"y":0.432},{"s":"MP05","c":"t","x":7113.8,"y":0.4365},{"s":"MP05","c":"t","x":7114.1,"y":0.438},{"s":"MP05","c":"t","x":7114.5,"y":0.4365},{"s":"MP05","c":"t","x":7115,"y":0.4305},{"s":"MP05","c":"t","x":7115.6,"y":0.4205},{"s":"MP05","c":"t","x":7116.3,"y":0.4105},{"s":"MP05","c":"t","x":7117,"y":0.4048},{"s":"MP05","c":"t","x":7118,"y":0.4018},
{"s":"MP05","c":"g","x":7110,"y":0.4005},{"s":"MP05","c":"g","x":7111.5,"y":0.403},{"s":"MP05","c":"g","x":7112.5,"y":0.409},{"s":"MP05","c":"g","x":7113.3,"y":0.419},{"s":"MP05","c":"g","x":7114,"y":0.427},{"s":"MP05","c":"g","x":7114.3,"y":0.428},{"s":"MP05","c":"g","x":7114.8,"y":0.426},{"s":"MP05","c":"g","x":7115.4,"y":0.419},{"s":"MP05","c":"g","x":7116.2,"y":0.409},{"s":"MP05","c":"g","x":7117,"y":0.404},{"s":"MP05","c":"g","x":7118,"y":0.4015},
{"s":"MP05","c":"b","x":7110,"y":0.4003},{"s":"MP05","c":"b","x":7111.5,"y":0.402},{"s":"MP05","c":"b","x":7112.5,"y":0.405},{"s":"MP05","c":"b","x":7113.3,"y":0.408},{"s":"MP05","c":"b","x":7113.8,"y":0.4085},{"s":"MP05","c":"b","x":7114.4,"y":0.407},{"s":"MP05","c":"b","x":7115.2,"y":0.404},{"s":"MP05","c":"b","x":7116.2,"y":0.4015},{"s":"MP05","c":"b","x":7118,"y":0.4003},
{"s":"MP05","c":"r","x":7109,"y":0.4005},{"s":"MP05","c":"r","x":7110.5,"y":0.4015},{"s":"MP05","c":"r","x":7111.7,"y":0.403},{"s":"MP05","c":"r","x":7112.8,"y":0.4035},{"s":"MP05","c":"r","x":7113.8,"y":0.4025},{"s":"MP05","c":"r","x":7115,"y":0.401},{"s":"MP05","c":"r","x":7118,"y":0.4003},
{"s":"MP04","c":"t","x":7109,"y":0.3005},{"s":"MP04","c":"t","x":7110,"y":0.3015},{"s":"MP04","c":"t","x":7110.8,"y":0.3035},{"s":"MP04","c":"t","x":7111.5,"y":0.3075},{"s":"MP04","c":"t","x":7112.2,"y":0.3158},{"s":"MP04","c":"t","x":7112.8,"y":0.3264},{"s":"MP04","c":"t","x":7113.4,"y":0.3378},{"s":"MP04","c":"t","x":7113.8,"y":0.3427},{"s":"MP04","c":"t","x":7114.1,"y":0.344},{"s":"MP04","c":"t","x":7114.5,"y":0.3418},{"s":"MP04","c":"t","x":7115,"y":0.3343},{"s":"MP04","c":"t","x":7115.6,"y":0.322},{"s":"MP04","c":"t","x":7116.3,"y":0.311},{"s":"MP04","c":"t","x":7117,"y":0.3048},{"s":"MP04","c":"t","x":7118,"y":0.3018},
{"s":"MP04","c":"r","x":7109,"y":0.3005},{"s":"MP04","c":"r","x":7110.5,"y":0.3025},{"s":"MP04","c":"r","x":7111.5,"y":0.303},{"s":"MP04","c":"r","x":7112.5,"y":0.302},{"s":"MP04","c":"r","x":7114,"y":0.3008},{"s":"MP04","c":"r","x":7118,"y":0.3002},
{"s":"MP03","c":"t","x":7109,"y":0.2008},{"s":"MP03","c":"t","x":7110,"y":0.2022},{"s":"MP03","c":"t","x":7110.8,"y":0.2048},{"s":"MP03","c":"t","x":7111.5,"y":0.209},{"s":"MP03","c":"t","x":7112.2,"y":0.2165},{"s":"MP03","c":"t","x":7112.8,"y":0.2255},{"s":"MP03","c":"t","x":7113.4,"y":0.2335},{"s":"MP03","c":"t","x":7113.8,"y":0.2385},{"s":"MP03","c":"t","x":7114.1,"y":0.24},{"s":"MP03","c":"t","x":7114.5,"y":0.2385},{"s":"MP03","c":"t","x":7115,"y":0.232},{"s":"MP03","c":"t","x":7115.6,"y":0.2215},{"s":"MP03","c":"t","x":7116.3,"y":0.211},{"s":"MP03","c":"t","x":7117,"y":0.205},{"s":"MP03","c":"t","x":7118,"y":0.2018},
{"s":"MP03","c":"g","x":7110,"y":0.2004},{"s":"MP03","c":"g","x":7111.5,"y":0.202},{"s":"MP03","c":"g","x":7112.5,"y":0.206},{"s":"MP03","c":"g","x":7113.3,"y":0.213},{"s":"MP03","c":"g","x":7114,"y":0.222},{"s":"MP03","c":"g","x":7114.5,"y":0.225},{"s":"MP03","c":"g","x":7115,"y":0.223},{"s":"MP03","c":"g","x":7115.6,"y":0.217},{"s":"MP03","c":"g","x":7116.3,"y":0.209},{"s":"MP03","c":"g","x":7117,"y":0.2045},{"s":"MP03","c":"g","x":7118,"y":0.2015},
{"s":"MP03","c":"b","x":7110,"y":0.2008},{"s":"MP03","c":"b","x":7111.5,"y":0.204},{"s":"MP03","c":"b","x":7112.5,"y":0.21},{"s":"MP03","c":"b","x":7113.3,"y":0.2145},{"s":"MP03","c":"b","x":7113.7,"y":0.215},{"s":"MP03","c":"b","x":7114.3,"y":0.2125},{"s":"MP03","c":"b","x":7115,"y":0.208},{"s":"MP03","c":"b","x":7116,"y":0.2035},{"s":"MP03","c":"b","x":7117,"y":0.2012},{"s":"MP03","c":"b","x":7118,"y":0.2004},
{"s":"MP03","c":"r","x":7109,"y":0.2005},{"s":"MP03","c":"r","x":7110.5,"y":0.202},{"s":"MP03","c":"r","x":7111.7,"y":0.204},{"s":"MP03","c":"r","x":7112.8,"y":0.205},{"s":"MP03","c":"r","x":7113.8,"y":0.2035},{"s":"MP03","c":"r","x":7115,"y":0.2015},{"s":"MP03","c":"r","x":7116.5,"y":0.2005},{"s":"MP03","c":"r","x":7118,"y":0.2002},
{"s":"MP02","c":"t","x":7109,"y":0.1006},{"s":"MP02","c":"t","x":7110,"y":0.1019},{"s":"MP02","c":"t","x":7110.8,"y":0.1043},{"s":"MP02","c":"t","x":7111.5,"y":0.1092},{"s":"MP02","c":"t","x":7112.2,"y":0.1194},{"s":"MP02","c":"t","x":7112.8,"y":0.1324},{"s":"MP02","c":"t","x":7113.4,"y":0.1464},{"s":"MP02","c":"t","x":7113.8,"y":0.1524},{"s":"MP02","c":"t","x":7114.1,"y":0.154},{"s":"MP02","c":"t","x":7114.5,"y":0.1513},{"s":"MP02","c":"t","x":7115,"y":0.1421},{"s":"MP02","c":"t","x":7115.6,"y":0.127},{"s":"MP02","c":"t","x":7116.3,"y":0.1135},{"s":"MP02","c":"t","x":7117,"y":0.1059},{"s":"MP02","c":"t","x":7118,"y":0.1022},
{"s":"MP02","c":"r","x":7109,"y":0.101},{"s":"MP02","c":"r","x":7118,"y":0.101},
{"s":"MP01","c":"t","x":7109,"y":0.0006},{"s":"MP01","c":"t","x":7110,"y":0.0016},{"s":"MP01","c":"t","x":7110.8,"y":0.0037},{"s":"MP01","c":"t","x":7111.5,"y":0.0078},{"s":"MP01","c":"t","x":7112.2,"y":0.0166},{"s":"MP01","c":"t","x":7112.8,"y":0.0276},{"s":"MP01","c":"t","x":7113.4,"y":0.0396},{"s":"MP01","c":"t","x":7113.8,"y":0.0446},{"s":"MP01","c":"t","x":7114.1,"y":0.046},{"s":"MP01","c":"t","x":7114.5,"y":0.0437},{"s":"MP01","c":"t","x":7115,"y":0.0359},{"s":"MP01","c":"t","x":7115.6,"y":0.023},{"s":"MP01","c":"t","x":7116.3,"y":0.0115},{"s":"MP01","c":"t","x":7117,"y":0.0051},{"s":"MP01","c":"t","x":7118,"y":0.0018},
{"s":"MP01","c":"r","x":7109,"y":0.0005},{"s":"MP01","c":"r","x":7118,"y":0.0005},
{"s":"TUO","c":"t","x":7109,"y":0.401},{"s":"TUO","c":"t","x":7110,"y":0.404},{"s":"TUO","c":"t","x":7111,"y":0.4099},{"s":"TUO","c":"t","x":7111.8,"y":0.417},{"s":"TUO","c":"t","x":7112.5,"y":0.4245},{"s":"TUO","c":"t","x":7113,"y":0.432},{"s":"TUO","c":"t","x":7113.5,"y":0.439},{"s":"TUO","c":"t","x":7114,"y":0.445},{"s":"TUO","c":"t","x":7114.3,"y":0.4445},{"s":"TUO","c":"t","x":7114.8,"y":0.441},{"s":"TUO","c":"t","x":7115.3,"y":0.434},{"s":"TUO","c":"t","x":7116,"y":0.422},{"s":"TUO","c":"t","x":7116.7,"y":0.411},{"s":"TUO","c":"t","x":7117.4,"y":0.405},{"s":"TUO","c":"t","x":7118,"y":0.403},
{"s":"TUO","c":"r","x":7109,"y":0.401},{"s":"TUO","c":"r","x":7110,"y":0.403},{"s":"TUO","c":"r","x":7111,"y":0.407},{"s":"TUO","c":"r","x":7111.8,"y":0.411},{"s":"TUO","c":"r","x":7112.3,"y":0.412},{"s":"TUO","c":"r","x":7112.8,"y":0.409},{"s":"TUO","c":"r","x":7113.5,"y":0.404},{"s":"TUO","c":"r","x":7114.3,"y":0.4015},{"s":"TUO","c":"r","x":7115.5,"y":0.4005},{"s":"TUO","c":"r","x":7118,"y":0.4},
{"s":"TUO","c":"b","x":7109,"y":0.4},{"s":"TUO","c":"b","x":7110,"y":0.401},{"s":"TUO","c":"b","x":7111,"y":0.403},{"s":"TUO","c":"b","x":7112,"y":0.411},{"s":"TUO","c":"b","x":7112.8,"y":0.424},{"s":"TUO","c":"b","x":7113.5,"y":0.435},{"s":"TUO","c":"b","x":7114,"y":0.44},{"s":"TUO","c":"b","x":7114.5,"y":0.439},{"s":"TUO","c":"b","x":7115.3,"y":0.432},{"s":"TUO","c":"b","x":7116,"y":0.421},{"s":"TUO","c":"b","x":7116.7,"y":0.411},{"s":"TUO","c":"b","x":7117.4,"y":0.405},{"s":"TUO","c":"b","x":7118,"y":0.403},
{"s":"TU6","c":"t","x":7109,"y":0.3005},{"s":"TU6","c":"t","x":7110,"y":0.3015},{"s":"TU6","c":"t","x":7111,"y":0.304},{"s":"TU6","c":"t","x":7111.8,"y":0.309},{"s":"TU6","c":"t","x":7112.5,"y":0.314},{"s":"TU6","c":"t","x":7113,"y":0.319},{"s":"TU6","c":"t","x":7113.5,"y":0.328},{"s":"TU6","c":"t","x":7114,"y":0.337},{"s":"TU6","c":"t","x":7114.3,"y":0.34},{"s":"TU6","c":"t","x":7114.8,"y":0.338},{"s":"TU6","c":"t","x":7115.3,"y":0.333},{"s":"TU6","c":"t","x":7116,"y":0.32},{"s":"TU6","c":"t","x":7116.7,"y":0.31},{"s":"TU6","c":"t","x":7117.4,"y":0.304},{"s":"TU6","c":"t","x":7118,"y":0.3015},
{"s":"TU6","c":"r","x":7109,"y":0.3},{"s":"TU6","c":"r","x":7110.5,"y":0.302},{"s":"TU6","c":"r","x":7111.5,"y":0.305},{"s":"TU6","c":"r","x":7112.3,"y":0.3065},{"s":"TU6","c":"r","x":7113,"y":0.304},{"s":"TU6","c":"r","x":7113.8,"y":0.3015},{"s":"TU6","c":"r","x":7115,"y":0.3003},{"s":"TU6","c":"r","x":7118,"y":0.3},
{"s":"TU6","c":"g","x":7109,"y":0.3},{"s":"TU6","c":"g","x":7110.5,"y":0.301},{"s":"TU6","c":"g","x":7111.5,"y":0.303},{"s":"TU6","c":"g","x":7112.5,"y":0.308},{"s":"TU6","c":"g","x":7113,"y":0.314},{"s":"TU6","c":"g","x":7113.5,"y":0.325},{"s":"TU6","c":"g","x":7114,"y":0.335},{"s":"TU6","c":"g","x":7114.3,"y":0.339},{"s":"TU6","c":"g","x":7114.8,"y":0.337},{"s":"TU6","c":"g","x":7115.3,"y":0.332},{"s":"TU6","c":"g","x":7116,"y":0.319},{"s":"TU6","c":"g","x":7116.7,"y":0.3095},{"s":"TU6","c":"g","x":7117.4,"y":0.304},{"s":"TU6","c":"g","x":7118,"y":0.3015},
{"s":"TU3","c":"t","x":7109,"y":0.2005},{"s":"TU3","c":"t","x":7110,"y":0.202},{"s":"TU3","c":"t","x":7111,"y":0.2046},{"s":"TU3","c":"t","x":7111.8,"y":0.208},{"s":"TU3","c":"t","x":7112.5,"y":0.2105},{"s":"TU3","c":"t","x":7113,"y":0.214},{"s":"TU3","c":"t","x":7113.5,"y":0.223},{"s":"TU3","c":"t","x":7114,"y":0.235},{"s":"TU3","c":"t","x":7114.3,"y":0.24},{"s":"TU3","c":"t","x":7114.8,"y":0.236},{"s":"TU3","c":"t","x":7115.3,"y":0.23},{"s":"TU3","c":"t","x":7116,"y":0.218},{"s":"TU3","c":"t","x":7116.7,"y":0.209},{"s":"TU3","c":"t","x":7117.4,"y":0.204},{"s":"TU3","c":"t","x":7118,"y":0.2015},
{"s":"TU3","c":"r","x":7109,"y":0.2005},{"s":"TU3","c":"r","x":7110.5,"y":0.202},{"s":"TU3","c":"r","x":7111.5,"y":0.2045},{"s":"TU3","c":"r","x":7112.4,"y":0.206},{"s":"TU3","c":"r","x":7113,"y":0.2045},{"s":"TU3","c":"r","x":7113.8,"y":0.202},{"s":"TU3","c":"r","x":7115,"y":0.2005},{"s":"TU3","c":"r","x":7118,"y":0.2},
{"s":"TU3","c":"g","x":7109,"y":0.2},{"s":"TU3","c":"g","x":7110.5,"y":0.2005},{"s":"TU3","c":"g","x":7111.5,"y":0.2015},{"s":"TU3","c":"g","x":7112.5,"y":0.2045},{"s":"TU3","c":"g","x":7113,"y":0.2095},{"s":"TU3","c":"g","x":7113.5,"y":0.22},{"s":"TU3","c":"g","x":7114,"y":0.233},{"s":"TU3","c":"g","x":7114.3,"y":0.239},{"s":"TU3","c":"g","x":7114.8,"y":0.235},{"s":"TU3","c":"g","x":7115.3,"y":0.229},{"s":"TU3","c":"g","x":7116,"y":0.2175},{"s":"TU3","c":"g","x":7116.7,"y":0.2085},{"s":"TU3","c":"g","x":7117.4,"y":0.2035},{"s":"TU3","c":"g","x":7118,"y":0.2012},
{"s":"OUfol","c":"t","x":7109,"y":0.101},{"s":"OUfol","c":"t","x":7110,"y":0.1025},{"s":"OUfol","c":"t","x":7111,"y":0.106},{"s":"OUfol","c":"t","x":7111.8,"y":0.111},{"s":"OUfol","c":"t","x":7112.5,"y":0.116},{"s":"OUfol","c":"t","x":7113,"y":0.122},{"s":"OUfol","c":"t","x":7113.5,"y":0.135},{"s":"OUfol","c":"t","x":7114,"y":0.148},{"s":"OUfol","c":"t","x":7114.3,"y":0.15},{"s":"OUfol","c":"t","x":7114.8,"y":0.146},{"s":"OUfol","c":"t","x":7115.3,"y":0.139},{"s":"OUfol","c":"t","x":7116,"y":0.125},{"s":"OUfol","c":"t","x":7116.7,"y":0.113},{"s":"OUfol","c":"t","x":7117.4,"y":0.106},{"s":"OUfol","c":"t","x":7118,"y":0.1025},
{"s":"OUfol","c":"r","x":7109,"y":0.101},{"s":"OUfol","c":"r","x":7110.5,"y":0.103},{"s":"OUfol","c":"r","x":7111.5,"y":0.105},{"s":"OUfol","c":"r","x":7112.5,"y":0.1055},{"s":"OUfol","c":"r","x":7113.3,"y":0.104},{"s":"OUfol","c":"r","x":7114.3,"y":0.1015},{"s":"OUfol","c":"r","x":7115.5,"y":0.1005},{"s":"OUfol","c":"r","x":7118,"y":0.1},
{"s":"OUfol","c":"g","x":7109,"y":0.1},{"s":"OUfol","c":"g","x":7110.5,"y":0.1008},{"s":"OUfol","c":"g","x":7111.5,"y":0.1025},{"s":"OUfol","c":"g","x":7112.5,"y":0.107},{"s":"OUfol","c":"g","x":7113,"y":0.113},{"s":"OUfol","c":"g","x":7113.5,"y":0.125},{"s":"OUfol","c":"g","x":7114,"y":0.136},{"s":"OUfol","c":"g","x":7114.3,"y":0.139},{"s":"OUfol","c":"g","x":7114.8,"y":0.136},{"s":"OUfol","c":"g","x":7115.3,"y":0.13},{"s":"OUfol","c":"g","x":7116,"y":0.119},{"s":"OUfol","c":"g","x":7116.7,"y":0.1095},{"s":"OUfol","c":"g","x":7117.4,"y":0.104},{"s":"OUfol","c":"g","x":7118,"y":0.1015},
{"s":"OUfol","c":"b","x":7109,"y":0.1},{"s":"OUfol","c":"b","x":7111,"y":0.101},{"s":"OUfol","c":"b","x":7112.5,"y":0.103},{"s":"OUfol","c":"b","x":7113.5,"y":0.105},{"s":"OUfol","c":"b","x":7114.5,"y":0.105},{"s":"OUfol","c":"b","x":7115.5,"y":0.104},{"s":"OUfol","c":"b","x":7116.5,"y":0.102},{"s":"OUfol","c":"b","x":7118,"y":0.1005},
{"s":"OU","c":"t","x":7109,"y":0.0005},{"s":"OU","c":"t","x":7110,"y":0.0018},{"s":"OU","c":"t","x":7111,"y":0.005},{"s":"OU","c":"t","x":7111.8,"y":0.009},{"s":"OU","c":"t","x":7112.5,"y":0.014},{"s":"OU","c":"t","x":7113,"y":0.021},{"s":"OU","c":"t","x":7113.5,"y":0.031},{"s":"OU","c":"t","x":7114,"y":0.042},{"s":"OU","c":"t","x":7114.3,"y":0.045},{"s":"OU","c":"t","x":7114.8,"y":0.041},{"s":"OU","c":"t","x":7115.3,"y":0.034},{"s":"OU","c":"t","x":7116,"y":0.021},{"s":"OU","c":"t","x":7116.7,"y":0.011},{"s":"OU","c":"t","x":7117.4,"y":0.005},{"s":"OU","c":"t","x":7118,"y":0.002},
{"s":"OU","c":"r","x":7109,"y":0.0005},{"s":"OU","c":"r","x":7110.5,"y":0.002},{"s":"OU","c":"r","x":7111.5,"y":0.003},{"s":"OU","c":"r","x":7112.5,"y":0.0035},{"s":"OU","c":"r","x":7113.5,"y":0.002},{"s":"OU","c":"r","x":7114.5,"y":0.0008},{"s":"OU","c":"r","x":7118,"y":0},
{"s":"OU","c":"g","x":7109,"y":0},{"s":"OU","c":"g","x":7110.5,"y":0.0008},{"s":"OU","c":"g","x":7111.5,"y":0.003},{"s":"OU","c":"g","x":7112.5,"y":0.009},{"s":"OU","c":"g","x":7113,"y":0.015},{"s":"OU","c":"g","x":7113.5,"y":0.025},{"s":"OU","c":"g","x":7114,"y":0.035},{"s":"OU","c":"g","x":7114.3,"y":0.038},{"s":"OU","c":"g","x":7114.8,"y":0.035},{"s":"OU","c":"g","x":7115.3,"y":0.029},{"s":"OU","c":"g","x":7116,"y":0.018},{"s":"OU","c":"g","x":7116.7,"y":0.0095},{"s":"OU","c":"g","x":7117.4,"y":0.004},{"s":"OU","c":"g","x":7118,"y":0.0015}
]},
"hconcat":[
{"width":186,"height":555,
"encoding":{"x":{"field":"x","type":"quantitative","scale":{"domain":[7109,7118]},"axis":{"title":"Energy (eV)","values":[7110,7111,7112,7113,7114,7115,7116,7117,7118],"format":"d","labelExpr":"datum.value==7110||datum.value==7115?datum.label:''","tickSize":{"condition":{"test":"datum.value==7110||datum.value==7115","value":-8},"value":-5},"labelPadding":11,"titlePadding":3}},
"y":{"field":"y","type":"quantitative","scale":{"domain":[0,1.1]},"axis":{"title":null,"values":[0,0.1,0.2,0.3,0.4,0.5,0.6,0.7,0.8,0.9,1],"labelExpr":"datum.value==0?'0':(datum.value==0.5?'0.5':(datum.value==1?'1.0':''))","tickSize":-5,"labelPadding":10,"minExtent":30,"maxExtent":30}}},
"layer":[
{"data":{"name":"v"},"mark":{"type":"rule","color":"#777","strokeDash":[2,2],"strokeWidth":1.5},"encoding":{"y2":{"field":"y2v"}}},
{"data":{"name":"d"},"transform":[{"filter":{"field":"s","oneOf":["TT1","TT2","TT3","TT4","TT5","TT6","TT7","TT8","TT9","TT11","TT12"]}},{"filter":"datum.c!='t'"}],"mark":{"type":"line","interpolate":"monotone","strokeWidth":1},"encoding":{"color":{"field":"c","type":"nominal","scale":{"domain":["r","g","b","k"],"range":["#e0503c","#93bb80","#7ea7dc","#9a9a9a"]},"legend":null},"detail":{"field":"s"}}},
{"data":{"name":"d"},"transform":[{"filter":{"field":"s","oneOf":["TT1","TT2","TT3","TT4","TT5","TT6","TT7","TT8","TT9","TT11","TT12"]}},{"filter":"datum.c=='t'"}],"mark":{"type":"line","interpolate":"monotone","strokeWidth":2.2,"color":"#000"},"encoding":{"detail":{"field":"s"}}},
{"data":{"name":"fe"},"transform":[{"filter":"datum.p==1"}],"mark":{"type":"text","baseline":"middle"},"encoding":{"text":{"field":"t"}}},
{"data":{"name":"n"},"transform":[{"filter":"datum.p==1"}],"mark":{"type":"text","align":"right","baseline":"middle"},"encoding":{"text":{"field":"s"}}}
]},
{"width":184,"height":555,
"encoding":{"x":{"field":"x","type":"quantitative","scale":{"domain":[7109,7118]},"axis":{"title":"Energy (eV)","values":[7110,7111,7112,7113,7114,7115,7116,7117,7118],"format":"d","labelExpr":"datum.value==7110||datum.value==7115?datum.label:''","tickSize":{"condition":{"test":"datum.value==7110||datum.value==7115","value":-8},"value":-5},"labelPadding":11,"titlePadding":3}},
"y":{"field":"y","type":"quantitative","scale":{"domain":[0,1.1]},"axis":{"title":null,"values":[0,0.1,0.2,0.3,0.4,0.5,0.6,0.7,0.8,0.9,1],"labelExpr":"datum.value==0?'0':(datum.value==0.5?'0.5':(datum.value==1?'1.0':''))","tickSize":-5,"labelPadding":10,"minExtent":32,"maxExtent":32}}},
"layer":[
{"data":{"name":"v"},"mark":{"type":"rule","color":"#777","strokeDash":[2,2],"strokeWidth":1.5},"encoding":{"y2":{"field":"y2v"}}},
{"data":{"name":"d"},"transform":[{"filter":{"field":"s","oneOf":["MP01","MP02","MP03","MP04","MP05","MP06","MP07"]}},{"filter":"datum.c!='t'"}],"mark":{"type":"line","interpolate":"monotone","strokeWidth":1},"encoding":{"color":{"field":"c","type":"nominal","scale":{"domain":["r","g","b","k"],"range":["#e0503c","#93bb80","#7ea7dc","#9a9a9a"]},"legend":null},"detail":{"field":"s"}}},
{"data":{"name":"d"},"transform":[{"filter":{"field":"s","oneOf":["MP01","MP02","MP03","MP04","MP05","MP06","MP07"]}},{"filter":"datum.c=='t'"}],"mark":{"type":"line","interpolate":"monotone","strokeWidth":2.2,"color":"#000"},"encoding":{"detail":{"field":"s"}}},
{"data":{"name":"fe"},"transform":[{"filter":"datum.p==2"}],"mark":{"type":"text","baseline":"middle"},"encoding":{"text":{"field":"t"}}},
{"data":{"name":"n"},"transform":[{"filter":"datum.p==2"}],"mark":{"type":"text","align":"right","baseline":"middle"},"encoding":{"text":{"field":"s"}}}
]},
{"width":176,"height":555,
"encoding":{"x":{"field":"x","type":"quantitative","scale":{"domain":[7109,7118]},"axis":{"title":"Energy (eV)","values":[7110,7111,7112,7113,7114,7115,7116,7117,7118],"format":"d","labelExpr":"datum.value==7110||datum.value==7115?datum.label:''","tickSize":{"condition":{"test":"datum.value==7110||datum.value==7115","value":-8},"value":-5},"labelPadding":11,"titlePadding":3}},
"y":{"field":"y","type":"quantitative","scale":{"domain":[0,1.1]},"axis":{"title":null,"values":[0,0.1,0.2,0.3,0.4,0.5,0.6,0.7,0.8,0.9,1],"labelExpr":"datum.value==0?'0':(datum.value==0.5?'0.5':(datum.value==1?'1.0':''))","tickSize":-5,"labelPadding":10,"minExtent":54,"maxExtent":54}}},
"layer":[
{"data":{"name":"v"},"mark":{"type":"rule","color":"#777","strokeDash":[2,2],"strokeWidth":1.5},"encoding":{"y2":{"field":"y2v"}}},
{"data":{"name":"d"},"transform":[{"filter":{"field":"s","oneOf":["OU","OUfol","TU3","TU6","TUO"]}},{"filter":"datum.c!='t'"}],"mark":{"type":"line","interpolate":"monotone","strokeWidth":1},"encoding":{"color":{"field":"c","type":"nominal","scale":{"domain":["r","g","b","k"],"range":["#e0503c","#93bb80","#7ea7dc","#9a9a9a"]},"legend":null},"detail":{"field":"s"}}},
{"data":{"name":"d"},"transform":[{"filter":{"field":"s","oneOf":["OU","OUfol","TU3","TU6","TUO"]}},{"filter":"datum.c=='t'"}],"mark":{"type":"line","interpolate":"monotone","strokeWidth":2.2,"color":"#000"},"encoding":{"detail":{"field":"s"}}},
{"data":{"name":"fe"},"transform":[{"filter":"datum.p==3"}],"mark":{"type":"text","baseline":"middle"},"encoding":{"text":{"field":"t"}}},
{"data":{"name":"n"},"transform":[{"filter":"datum.p==3"}],"mark":{"type":"text","align":"center","baseline":"middle"},"encoding":{"text":{"field":"s"}}}
]}
]
}
